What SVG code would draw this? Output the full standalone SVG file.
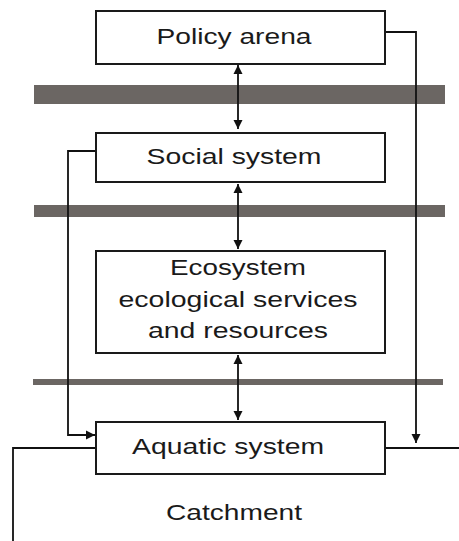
<svg xmlns="http://www.w3.org/2000/svg" width="459" height="541" viewBox="0 0 459 541">
<style>
.box{fill:#fff;stroke:#1a1a1a;stroke-width:2}
.bar{fill:#6b6663}
.ln{fill:none;stroke:#111;stroke-width:1.8}
.t{font-family:"Liberation Sans",Arial,sans-serif;font-size:22px;fill:#1a1a1a;text-anchor:middle}
</style>
<defs>
<marker id="ah" viewBox="0 0 10 10" refX="10" refY="5" markerWidth="9" markerHeight="11" markerUnits="userSpaceOnUse" orient="auto-start-reverse">
<path d="M0,0 L10,5 L0,10 Z" fill="#111"/>
</marker>
</defs>
<rect class="bar" x="34" y="85" width="411" height="19"/>
<rect class="bar" x="34" y="205" width="411" height="12"/>
<rect class="bar" x="33" y="379" width="410" height="6"/>
<g id="connectors">
<line class="ln" x1="238" y1="65" x2="238" y2="129" marker-start="url(#ah)" marker-end="url(#ah)"/>
<line class="ln" x1="238" y1="184" x2="238" y2="249" marker-start="url(#ah)" marker-end="url(#ah)"/>
<line class="ln" x1="238" y1="355" x2="238" y2="420" marker-start="url(#ah)" marker-end="url(#ah)"/>
<polyline class="ln" points="385,32 416,32 416,443" marker-end="url(#ah)"/>
<polyline class="ln" points="96,151 68,151 68,435 95,435" marker-end="url(#ah)"/>
<line class="ln" x1="385" y1="448" x2="459" y2="448"/>
<polyline class="ln" points="96,448 13,448 13,541"/>
</g>
<g id="policy">
<rect class="box" x="96" y="11" width="289" height="53"/>
<text class="t" x="234" y="44" textLength="155" lengthAdjust="spacingAndGlyphs">Policy arena</text>
</g>
<g id="social">
<rect class="box" x="96" y="133" width="289" height="49"/>
<text class="t" x="234" y="164" textLength="175" lengthAdjust="spacingAndGlyphs">Social system</text>
</g>
<g id="ecosystem">
<rect class="box" x="96" y="251" width="289" height="102"/>
<text class="t" x="238" y="275" textLength="136" lengthAdjust="spacingAndGlyphs">Ecosystem</text>
<text class="t" x="238" y="307" textLength="239" lengthAdjust="spacingAndGlyphs">ecological services</text>
<text class="t" x="238" y="338" textLength="180" lengthAdjust="spacingAndGlyphs">and resources</text>
</g>
<g id="aquatic">
<rect class="box" x="96" y="422" width="289" height="52"/>
<text class="t" x="228" y="454" textLength="192" lengthAdjust="spacingAndGlyphs">Aquatic system</text>
</g>
<g id="catchment">
<text class="t" x="234" y="520" textLength="136" lengthAdjust="spacingAndGlyphs">Catchment</text>
</g>
</svg>
